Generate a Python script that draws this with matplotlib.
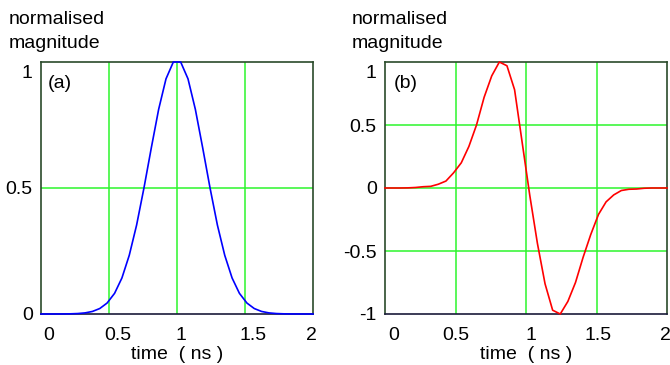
import matplotlib
matplotlib.use('Agg')
import matplotlib.pyplot as plt
import matplotlib.transforms as mtransforms

# sample times (ns)
t = [0.000, 0.054, 0.108, 0.162, 0.216, 0.270, 0.324, 0.378, 0.432, 0.486,
     0.541, 0.595, 0.649, 0.703, 0.757, 0.811, 0.865, 0.919, 0.973, 1.027,
     1.081, 1.135, 1.189, 1.243, 1.297, 1.351, 1.405, 1.459, 1.514, 1.568,
     1.622, 1.676, 1.730, 1.784, 1.838, 1.892, 1.946, 2.000]

# (a) gaussian pulse
pulse_a = [0.0, 0.0, 0.0001, 0.0002, 0.0007, 0.0018, 0.0044, 0.0101, 0.0217, 0.0435,
           0.082, 0.143, 0.233, 0.353, 0.500, 0.659, 0.812, 0.933, 1.0, 1.0,
           0.933, 0.812, 0.659, 0.500, 0.353, 0.233, 0.143, 0.082, 0.0435, 0.0217,
           0.0101, 0.0044, 0.0018, 0.0007, 0.0002, 0.0001, 0.0, 0.0]

# (b) monocycle
pulse_b = [0.0, 0.0, 0.0, 0.001, 0.004, 0.010, 0.013, 0.030, 0.055, 0.12,
           0.20, 0.33, 0.50, 0.72, 0.89, 1.0, 0.97, 0.78, 0.36, -0.06,
           -0.44, -0.76, -0.97, -1.0, -0.90, -0.75, -0.55, -0.37, -0.21, -0.11,
           -0.055, -0.02, -0.01, -0.008, -0.002, 0.0, 0.0, 0.0]

x_ticks = [0, 0.5, 1, 1.5, 2]
x_tick_labels = ['0', '0.5', '1', '1.5', '2']
ya_ticks = [0, 0.5, 1]
ya_tick_labels = ['0', '0.5', '1']
yb_ticks = [-1, -0.5, 0, 0.5, 1]
yb_tick_labels = ['-1', '-0.5', '0', '0.5', '1']

plt.rcParams['font.family'] = ['Liberation Sans', 'DejaVu Sans']
fs = 14
grid_col = '#2cf52c'

fig = plt.figure(figsize=(6.7, 3.65), dpi=100)
ax_a = fig.add_axes([41/670, 1-314/365, 272/670, 252/365])
ax_b = fig.add_axes([385/670, 1-314/365, 282/670, 252/365])


def style_axes(ax, yticks, ylabels, ygrid, xshift):
    ax.set_xlim(0, 2)
    ax.set_xticks(x_ticks)
    ax.set_xticklabels(x_tick_labels, fontsize=fs)
    ax.set_yticks(yticks)
    ax.set_yticklabels(ylabels, fontsize=fs)
    ax.tick_params(axis='x', length=0, pad=9)
    ax.tick_params(axis='y', length=0, pad=6)
    for g in [0.5, 1, 1.5]:
        ax.axvline(g, color=grid_col, lw=1.1, zorder=1)
    for g in ygrid:
        ax.axhline(g, color=grid_col, lw=1.1, zorder=1)
    for sp in ['left', 'top', 'right']:
        ax.spines[sp].set_color('#2a4a2a')
    ax.spines['bottom'].set_color('#1a1a3a')
    for sp in ax.spines.values():
        sp.set_linewidth(1.2)
    ax.set_xlabel('time  ( ns )', fontsize=fs, labelpad=2)
    # nudge tick labels like the original layout
    for lbl, dx in zip(ax.get_xticklabels(), xshift):
        lbl.set_transform(lbl.get_transform() +
                          mtransforms.ScaledTranslation(dx/100, 0, fig.dpi_scale_trans))
    top = ax.get_yticklabels()[-1]
    top.set_transform(top.get_transform() +
                      mtransforms.ScaledTranslation(0, -10/100, fig.dpi_scale_trans))


ax_a.plot(t, pulse_a, color='#0000ff', lw=1.2, zorder=3, clip_on=False)
ax_a.set_ylim(0, 1)
style_axes(ax_a, ya_ticks, ya_tick_labels, [0.5], [8, 9, 4, 8, -2])
ax_a.text(0.025, 0.915, '(a)', transform=ax_a.transAxes, fontsize=fs, va='center')

ax_b.plot(t, pulse_b, color='#ff0000', lw=1.2, zorder=3, clip_on=False)
ax_b.set_ylim(-1, 1)
style_axes(ax_b, yb_ticks, yb_tick_labels, [-0.5, 0, 0.5], [9, 0, 5, 2, -2])
ax_b.text(0.03, 0.915, '(b)', transform=ax_b.transAxes, fontsize=fs, va='center')

for x0 in [9/670, 352/670]:
    fig.text(x0, 1-20/365, 'normalised', fontsize=fs, va='center')
    fig.text(x0, 1-43/365, 'magnitude', fontsize=fs, va='center')

fig.savefig('out.png', dpi=100)
